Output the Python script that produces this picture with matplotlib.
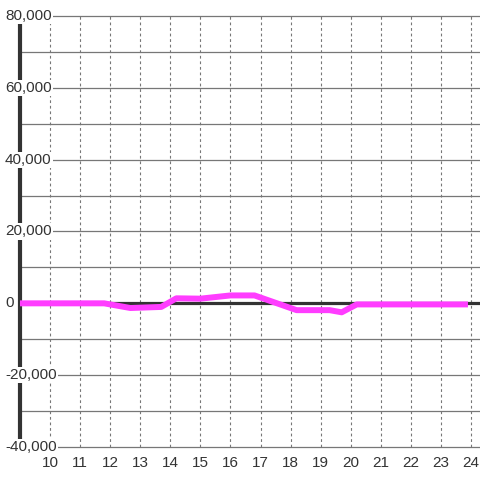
import numpy as np
import matplotlib
matplotlib.use('Agg')
import matplotlib.pyplot as plt

# hours of the day and value
horas = [9.0, 11.8, 12.67, 13.7, 14.2, 15.0, 16.0, 16.8, 18.2, 19.3, 19.7, 20.2, 23.8]
valores = [0, 0, -1300, -1000, 1400, 1300, 2200, 2200, -1900, -1900, -2500, -300, -300]

x_ticks = list(range(10, 25))
y_grid = list(range(-40000, 80001, 10000))
y_labels = [-40000, -20000, 0, 20000, 40000, 60000, 80000]

plt.rcParams['font.family'] = ['Liberation Sans', 'DejaVu Sans']

fig = plt.figure(figsize=(4.8, 4.8), dpi=100)
ax = fig.add_axes([20 / 480, 33 / 480, 460 / 480, 431 / 480])
ax.set_xlim(9, 24.3)
ax.set_ylim(-40000, 80000)
for s in ax.spines.values():
    s.set_visible(False)
ax.set_yticks([])
ax.set_xticks(x_ticks)
ax.set_xticklabels([str(t) for t in x_ticks], fontsize=11, color='#333333')
ax.tick_params(axis='x', length=0, pad=6.5)

# grid
for y in y_grid:
    if y == 0:
        continue
    ax.axhline(y, color='#777777', lw=0.9, zorder=1, clip_on=False)
for x in x_ticks:
    ax.axvline(x, color='#777777', lw=0.8, ls=(0, (2.5, 2.5)), zorder=1, clip_on=False)

ax.axhline(0, color='#333333', lw=2.3, zorder=2)
ax.axvline(9, color='#333333', lw=3, zorder=2, clip_on=False)

# y labels with white background over the axis line
for y in y_labels:
    ax.text(-0.0326, y, '{:,}'.format(y), transform=ax.get_yaxis_transform(),
            ha='left', va='center', fontsize=11, color='#333333', zorder=5,
            clip_on=False,
            bbox=dict(facecolor='white', edgecolor='none', pad=0.8))

ax.plot(horas, valores, color='#ff3dff', lw=4.3, zorder=4, solid_joinstyle='round')

fig.savefig('out.png', dpi=100, facecolor='white')
